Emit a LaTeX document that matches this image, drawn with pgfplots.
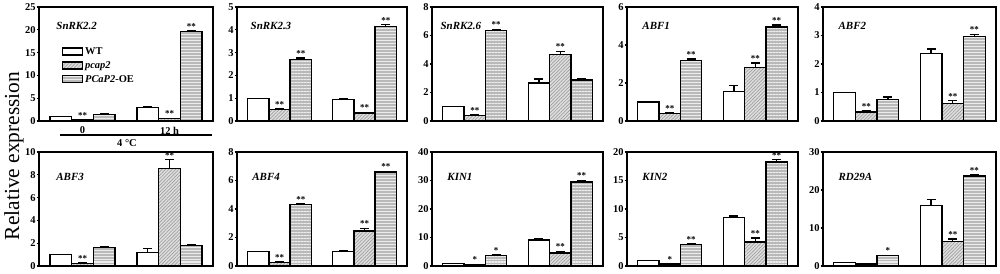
\documentclass[border=0pt]{standalone}
\usepackage{fontspec}
\setmainfont{Liberation Serif}
\usepackage{pgfplots}
\pgfplotsset{compat=1.18}
\usepackage{pgfplotstable}
\usetikzlibrary{patterns.meta}

\pgfplotstableread{
x wt wte pc pce oe oee
1 1.00 0.00 0.30 0.05 1.45 0.06
2 2.95 0.25 0.50 0.08 19.60 0.22
}\tA
\pgfplotstableread{
x wt wte pc pce oe oee
1 1.00 0.00 0.49 0.04 2.69 0.07
2 0.93 0.05 0.35 0.03 4.14 0.08
}\tB
\pgfplotstableread{
x wt wte pc pce oe oee
1 1.00 0.00 0.40 0.05 6.35 0.08
2 2.66 0.28 4.68 0.22 2.87 0.07
}\tC
\pgfplotstableread{
x wt wte pc pce oe oee
1 1.00 0.00 0.40 0.05 3.20 0.06
2 1.57 0.28 2.83 0.22 4.95 0.11
}\tD
\pgfplotstableread{
x wt wte pc pce oe oee
1 1.00 0.00 0.32 0.04 0.76 0.08
2 2.37 0.16 0.62 0.10 2.97 0.07
}\tE
\pgfplotstableread{
x wt wte pc pce oe oee
1 1.00 0.00 0.20 0.05 1.62 0.10
2 1.17 0.35 8.54 0.80 1.78 0.10
}\tF
\pgfplotstableread{
x wt wte pc pce oe oee
1 1.00 0.00 0.24 0.05 4.33 0.06
2 1.01 0.08 2.45 0.20 6.59 0.06
}\tG
\pgfplotstableread{
x wt wte pc pce oe oee
1 1.00 0.00 0.50 0.10 3.78 0.25
2 9.10 0.45 4.60 0.55 29.50 0.55
}\tH
\pgfplotstableread{
x wt wte pc pce oe oee
1 1.00 0.00 0.35 0.05 3.80 0.15
2 8.50 0.28 4.20 0.72 18.24 0.40
}\tI
\pgfplotstableread{
x wt wte pc pce oe oee
1 1.00 0.00 0.55 0.05 2.70 0.15
2 16.00 1.50 6.40 0.70 23.65 0.40
}\tJ

\newcommand{\tickfont}{\fontsize{10.5}{12}\selectfont\bfseries}
\newcommand{\genefont}{\fontsize{11}{12}\selectfont\bfseries\itshape}

\pgfplotsset{
  panel/.style={scale only axis, height=114bp, ymin=0, xmin=0.5, xmax=2.5,
    xtick=\empty, axis line style={line width=1.6bp},
    ytick pos=left, tick align=outside, major tick length=2.5bp,
    tick style={line width=1.2bp, black},
    /pgf/number format/assume math mode=true,
    tick label style={font=\tickfont},
    yticklabel style={inner sep=0.8bp},
    clip=false},
  barbase/.style={ybar, bar shift=0pt, bar width=0.25, draw=black, line width=1.3bp,
    error bars/y dir=plus, error bars/y explicit,
    error bars/error bar style={line width=1.3bp, black, solid},
    error bars/error mark options={rotate=90, mark size=4.5bp, line width=1.3bp, black},
    legend image code/.code={\draw[##1, line width=1.3bp] (0bp,-3.5bp) rectangle (20bp,3.5bp);}},
  wtstyle/.style={barbase, fill=white},
  pcstyle/.style={barbase, fill=gray!25,
    postaction={pattern={Lines[angle=45,distance=2.4pt,line width=0.7pt]}, pattern color=gray!75}},
  oestyle/.style={barbase, fill=gray!55,
    postaction={pattern={Lines[angle=0,distance=3pt,line width=1.1pt]}, pattern color=white!85!gray}},
  stars/.style={forget plot, draw=none, mark=none, nodes near coords, point meta=explicit symbolic,
    nodes near coords style={anchor=south, inner sep=0pt, yshift=1.2bp, font=\fontsize{9}{9}\selectfont\bfseries}}
}

\newcommand{\threebars}[1]{%
  \addplot[wtstyle] table[x expr=\thisrow{x}-0.25, y=wt, y error=wte]{#1};
  \addplot[pcstyle] table[x=x, y=pc, y error=pce]{#1};
  \addplot[oestyle] table[x expr=\thisrow{x}+0.25, y=oe, y error=oee]{#1};
}

\begin{document}
\begin{tikzpicture}
\useasboundingbox (0,0) rectangle (1000bp,274bp);

% ---------------- Row 1 ----------------
\begin{axis}[panel, at={(39bp,153bp)}, anchor=south west, width=174bp, ymax=25, ytick distance=5,
  xtick={1,2}, xticklabels={0,12 h}, xtick pos=bottom, x tick style={draw=none},
  legend entries={WT,\textit{pcap2},\textit{PCaP2}-OE},
  legend cell align=left,
  legend style={draw=none, fill=none, at={(0.13,0.665)}, anchor=north west,
    font=\tickfont, row sep=1.5bp, inner sep=0pt}]
\threebars{\tA}
\addplot[stars] coordinates {(1,0.35) [**] (2,0.58) [**] (2.25,19.82) [**]};
\node[anchor=west, font=\genefont] at (rel axis cs:0.08,0.83) {SnRK2.2};
\end{axis}

\begin{axis}[panel, at={(237bp,153bp)}, anchor=south west, width=170bp, ymax=5, ytick distance=1]
\threebars{\tB}
\addplot[stars] coordinates {(1,0.53) [**] (1.25,2.76) [**] (2,0.38) [**] (2.25,4.22) [**]};
\node[anchor=west, font=\genefont] at (rel axis cs:0.06,0.83) {SnRK2.3};
\end{axis}

\begin{axis}[panel, at={(432bp,153bp)}, anchor=south west, width=171bp, ymax=8, ytick distance=2]
\threebars{\tC}
\addplot[stars] coordinates {(1,0.45) [**] (1.25,6.43) [**] (2,4.9) [**]};
\node[anchor=west, font=\genefont] at (rel axis cs:0.03,0.83) {SnRK2.6};
\end{axis}

\begin{axis}[panel, at={(627bp,153bp)}, anchor=south west, width=171bp, ymax=6, ytick distance=2]
\threebars{\tD}
\addplot[stars] coordinates {(1,0.45) [**] (1.25,3.26) [**] (2,3.05) [**] (2.25,5.06) [**]};
\node[anchor=west, font=\genefont] at (rel axis cs:0.07,0.83) {ABF1};
\end{axis}

\begin{axis}[panel, at={(823bp,153bp)}, anchor=south west, width=173bp, ymax=4, ytick distance=1]
\threebars{\tE}
\addplot[stars] coordinates {(1,0.36) [**] (2,0.72) [**] (2.25,3.04) [**]};
\node[anchor=west, font=\genefont] at (rel axis cs:0.07,0.83) {ABF2};
\end{axis}

% ---------------- Row 2 ----------------
\begin{axis}[panel, at={(39bp,8bp)}, anchor=south west, width=174bp, ymax=10, ytick distance=2]
\threebars{\tF}
\addplot[stars] coordinates {(1,0.25) [**] (2,9.34) [**]};
\node[anchor=west, font=\genefont] at (rel axis cs:0.08,0.78) {ABF3};
\end{axis}

\begin{axis}[panel, at={(237bp,8bp)}, anchor=south west, width=170bp, ymax=8, ytick distance=2]
\threebars{\tG}
\addplot[stars] coordinates {(1,0.29) [**] (1.25,4.39) [**] (2,2.65) [**] (2.25,6.65) [**]};
\node[anchor=west, font=\genefont] at (rel axis cs:0.07,0.78) {ABF4};
\end{axis}

\begin{axis}[panel, at={(432bp,8bp)}, anchor=south west, width=171bp, ymax=40, ytick distance=10]
\threebars{\tH}
\addplot[stars] coordinates {(1,0.6) [*] (1.25,4.03) [*] (2,5.15) [**] (2.25,30.05) [**]};
\node[anchor=west, font=\genefont] at (rel axis cs:0.07,0.78) {KIN1};
\end{axis}

\begin{axis}[panel, at={(627bp,8bp)}, anchor=south west, width=171bp, ymax=20, ytick distance=5]
\threebars{\tI}
\addplot[stars] coordinates {(1,0.4) [*] (1.25,3.95) [**] (2,4.92) [**] (2.25,18.64) [**]};
\node[anchor=west, font=\genefont] at (rel axis cs:0.07,0.78) {KIN2};
\end{axis}

\begin{axis}[panel, at={(823bp,8bp)}, anchor=south west, width=173bp, ymax=30, ytick distance=10]
\threebars{\tJ}
\addplot[stars] coordinates {(1.25,2.85) [*] (2,7.1) [**] (2.25,24.05) [**]};
\node[anchor=west, font=\genefont] at (rel axis cs:0.07,0.78) {RD29A};
\end{axis}

% annotations
\draw[line width=1.3bp] (60bp,139bp) -- (212bp,139bp);
\node[font=\tickfont] at (127bp,131bp) {4 °C};
\node[rotate=90, font=\fontsize{21.5}{22}\selectfont] at (14bp,118bp) {Relative expression};
\end{tikzpicture}
\end{document}
